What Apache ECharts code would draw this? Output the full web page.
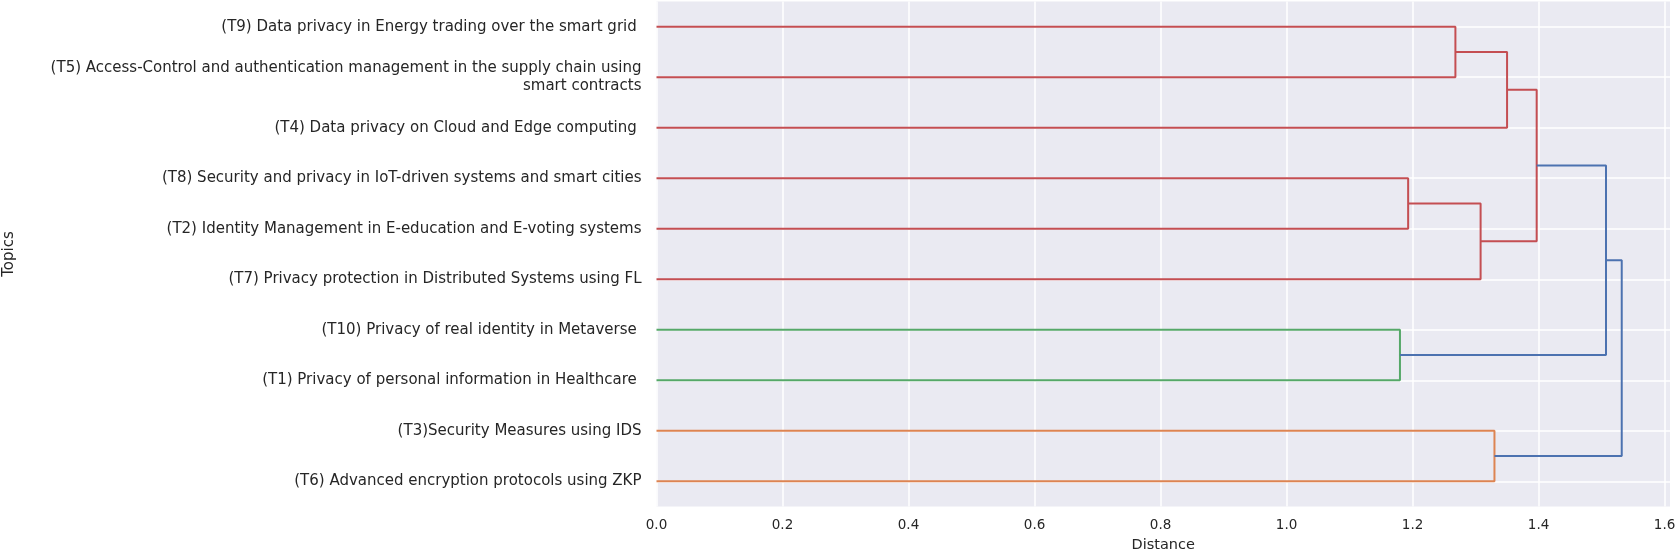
<!DOCTYPE html>
<html lang="en">

<head>
    <meta charset="utf-8">
    <title>Topic dendrogram</title>
    <script type="text/javascript" src="https://cdn.jsdelivr.net/npm/echarts@6.0.0/dist/echarts.min.js"></script>
    <style>
        html, body { margin: 0; padding: 0; background: #fff; }
        #chart { width: 1675px; height: 550px; }
    </style>
</head>

<body>
    <div id="chart"></div>

    <script>
        // leaves in dendrogram order, bottom to top
        const leafIds = ['T6', 'T3', 'T1', 'T10', 'T7', 'T2', 'T8', 'T4', 'T5', 'T9'];
        const leafLabels = [
            '(T6) Advanced encryption protocols using ZKP',
            '(T3)Security Measures using IDS',
            '(T1) Privacy of personal information in Healthcare ',
            '(T10) Privacy of real identity in Metaverse ',
            '(T7) Privacy protection in Distributed Systems using FL',
            '(T2) Identity Management in E-education and E-voting systems',
            '(T8) Security and privacy in IoT-driven systems and smart cities',
            '(T4) Data privacy on Cloud and Edge computing ',
            '(T5) Access-Control and authentication management in the supply chain using\nsmart contracts',
            '(T9) Data privacy in Energy trading over the smart grid '
        ];

        // linkage: node Lk joins linkLeft[k] and linkRight[k] at linkHeight[k]
        const linkLeft = ['T10', 'T8', 'T9', 'L1', 'T3', 'L2', 'L5', 'L6', 'L7'];
        const linkRight = ['T1', 'T2', 'T5', 'T7', 'T6', 'T4', 'L3', 'L0', 'L4'];
        const linkHeight = [1.180, 1.193, 1.268, 1.308, 1.330, 1.350, 1.397, 1.507, 1.532];
        const linkCluster = [2, 3, 3, 3, 1, 3, 3, 0, 0];

        const xTicks = [0, 0.2, 0.4, 0.6, 0.8, 1.0, 1.2, 1.4, 1.6];

        const palette = ['#4C72B0', '#DD8452', '#55A868', '#C44E52'];
        const textColor = '#262626';
        const font = 'DejaVu Sans';

        // scipy style positions: leaf i sits at 5 + 10 i
        const pos = {};
        const height = {};
        leafIds.forEach(function (id, i) { pos[id] = 5 + 10 * i; height[id] = 0; });
        const leafPos = leafIds.map(function (id) { return pos[id]; });

        const series = linkHeight.map(function (h, k) {
            const a = linkLeft[k], b = linkRight[k];
            const node = 'L' + k;
            pos[node] = (pos[a] + pos[b]) / 2;
            height[node] = h;
            return {
                type: 'line',
                data: [[height[a], pos[a]], [h, pos[a]], [h, pos[b]], [height[b], pos[b]]],
                symbol: 'none',
                silent: true,
                lineStyle: { color: palette[linkCluster[k]], width: 2 }
            };
        });

        const xMax = Math.max.apply(null, linkHeight) * 1.05;

        const chart = echarts.init(document.getElementById('chart'));
        chart.setOption({
            animation: false,
            grid: {
                left: 656.5, right: 5, top: 1.4, bottom: 43.4,
                containLabel: false,
                outerBoundsMode: 'none',
                show: true, backgroundColor: '#EAEAF2', borderWidth: 0
            },
            xAxis: {
                type: 'value',
                min: 0,
                max: xMax,
                name: 'Distance',
                nameLocation: 'middle',
                nameGap: 31,
                nameTextStyle: { color: textColor, fontFamily: font, fontSize: 14.5 },
                axisLine: { show: false },
                axisTick: { show: false, customValues: xTicks },
                axisLabel: {
                    customValues: xTicks,
                    margin: 12,
                    color: textColor, fontFamily: font, fontSize: 13.5,
                    formatter: function (v) { return v.toFixed(1); }
                },
                splitLine: { show: true, lineStyle: { color: '#ffffff', width: 1.5 } }
            },
            yAxis: {
                type: 'value',
                min: 0,
                max: 10 * leafIds.length,
                name: 'Topics',
                nameLocation: 'middle',
                nameGap: 640,
                nameTextStyle: { color: textColor, fontFamily: font, fontSize: 15 },
                axisLine: { show: false },
                axisTick: { show: false, customValues: leafPos },
                axisLabel: {
                    customValues: leafPos,
                    margin: 15,
                    align: 'right',
                    lineHeight: 18,
                    color: textColor, fontFamily: font, fontSize: 15,
                    formatter: function (v) { return leafLabels[Math.round((v - 5) / 10)]; }
                },
                splitLine: { show: true, lineStyle: { color: '#ffffff', width: 1.5 } }
            },
            series: series
        });
    </script>
</body>

</html>
